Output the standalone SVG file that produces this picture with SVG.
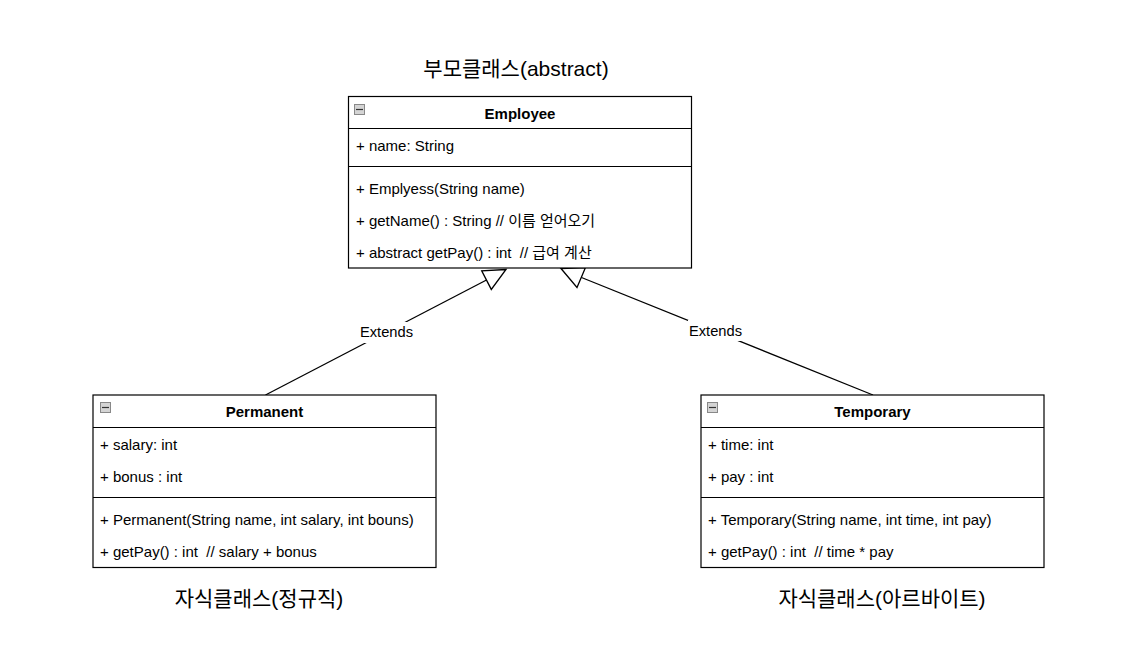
<svg xmlns="http://www.w3.org/2000/svg" width="1125" height="670" viewBox="0 0 1125 670">
<style>
  text { font-family: "Liberation Sans", Arial, "Noto Sans CJK KR", sans-serif; fill: #000; }
  .box { fill: #fff; stroke: #000; stroke-width: 1.2; }
  .sep { stroke: #000; stroke-width: 1.2; }
  .title { font-size: 15px; font-weight: bold; text-anchor: middle; }
  .row { font-size: 15px; }
  .caption { font-size: 21px; text-anchor: middle; }
  .icon { fill: #d4d4d4; stroke: #888; stroke-width: 1; }
  .icondash { stroke: #333; stroke-width: 1.2; }
  .edge { fill: none; stroke: #000; stroke-width: 1.3; }
  .head { fill: #fff; stroke: #000; stroke-width: 1.3; }
  .lbl { font-size: 14.7px; text-anchor: middle; }
</style>
<rect width="1125" height="670" fill="#fff"/>

<g id="caption-parent"><text class="caption" x="516" y="76">부모클래스(abstract)</text></g>
<g id="caption-permanent"><text class="caption" x="259" y="606">자식클래스(정규직)</text></g>
<g id="caption-temporary"><text class="caption" x="882" y="606">자식클래스(아르바이트)</text></g>

<g id="connectors">
  <g id="edge-permanent">
    <line class="edge" x1="265.5" y1="395" x2="486.5" y2="280"/>
    <polygon class="head" points="506,269.5 481.7,270.8 491.3,289.4"/>
    <rect x="359" y="322" width="55" height="21" fill="#fff"/>
    <text class="lbl" x="386.5" y="337">Extends</text>
  </g>
  <g id="edge-temporary">
    <line class="edge" x1="873" y1="395" x2="581.5" y2="277.5"/>
    <polygon class="head" points="561,268.5 585.5,267.5 577,287.5"/>
    <rect x="688" y="320" width="55" height="21" fill="#fff"/>
    <text class="lbl" x="715.5" y="335.5">Extends</text>
  </g>
</g>

<g id="employee">
  <rect class="box" x="348.5" y="96.5" width="343" height="171.5"/>
  <line class="sep" x1="348.5" y1="128.5" x2="691.5" y2="128.5"/>
  <line class="sep" x1="348.5" y1="166.5" x2="691.5" y2="166.5"/>
  <rect class="icon" x="354.5" y="104.5" width="10" height="10"/>
  <line class="icondash" x1="356" y1="109.5" x2="363" y2="109.5"/>
  <text class="title" x="520" y="119">Employee</text>
  <text class="row" x="356" y="151">+ name: String</text>
  <text class="row" x="356" y="194">+ Emplyess(String name)</text>
  <text class="row" x="356" y="226">+ getName() : String // 이름 얻어오기</text>
  <text class="row" x="356" y="258" xml:space="preserve">+ abstract getPay() : int  // 급여 계산</text>
</g>

<g id="permanent">
  <rect class="box" x="93" y="395" width="343" height="172.5"/>
  <line class="sep" x1="93" y1="427.5" x2="436" y2="427.5"/>
  <line class="sep" x1="93" y1="497.5" x2="436" y2="497.5"/>
  <rect class="icon" x="100.5" y="402.5" width="10" height="10"/>
  <line class="icondash" x1="102" y1="407.5" x2="109" y2="407.5"/>
  <text class="title" x="264.5" y="417">Permanent</text>
  <text class="row" x="100" y="450">+ salary: int</text>
  <text class="row" x="100" y="482">+ bonus : int</text>
  <text class="row" x="100" y="525">+ Permanent(String name, int salary, int bouns)</text>
  <text class="row" x="100" y="557" xml:space="preserve">+ getPay() : int  // salary + bonus</text>
</g>

<g id="temporary">
  <rect class="box" x="701" y="395" width="343" height="172.5"/>
  <line class="sep" x1="701" y1="427.5" x2="1044" y2="427.5"/>
  <line class="sep" x1="701" y1="497.5" x2="1044" y2="497.5"/>
  <rect class="icon" x="707.5" y="402.5" width="10" height="10"/>
  <line class="icondash" x1="709" y1="407.5" x2="716" y2="407.5"/>
  <text class="title" x="872.5" y="417">Temporary</text>
  <text class="row" x="708" y="450">+ time: int</text>
  <text class="row" x="708" y="482">+ pay : int</text>
  <text class="row" x="708" y="525">+ Temporary(String name, int time, int pay)</text>
  <text class="row" x="708" y="557" xml:space="preserve">+ getPay() : int  // time * pay</text>
</g>
</svg>
